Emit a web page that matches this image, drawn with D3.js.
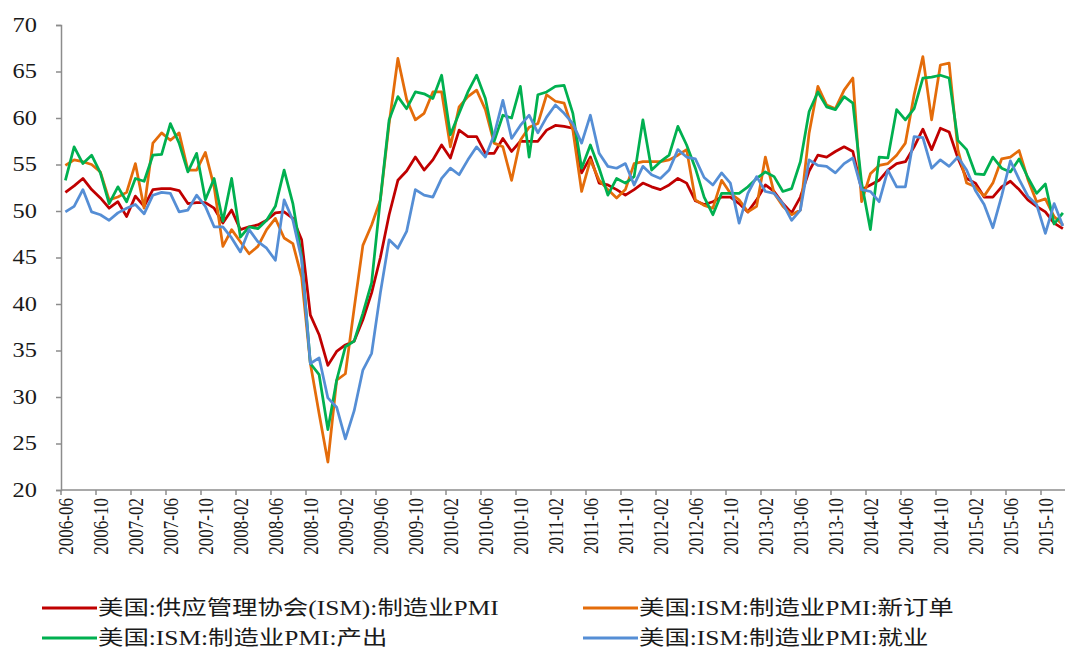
<!DOCTYPE html>
<html>
<head>
<meta charset="utf-8">
<script src="https://cdn.jsdelivr.net/npm/d3@7"></script>
<style>
  body { margin: 0; background: #fff; }
  #container { width: 1065px; height: 650px; }
</style>
</head>
<body>
<div id="container"></div>
<script>
//### DATA ###
//--- Months: 2006-06 to 2015-12
const startMonth = '2006-06';
const endMonth = '2015-12';

//--- 美国:供应管理协会(ISM):制造业PMI
const pmi = [
  52.0, 52.7, 53.5, 52.3, 51.4, 50.3, 51.0, 49.4, 51.6, 50.5,
  52.3, 52.4, 52.4, 52.2, 50.8, 50.9, 50.9, 50.3, 48.7, 50.1,
  48.0, 48.3, 48.5, 49.0, 49.8, 49.9, 49.2, 46.9, 38.8, 36.7,
  33.4, 34.9, 35.6, 36.0, 38.3, 41.2, 45.0, 49.6, 53.3, 54.3,
  55.8, 54.4, 55.5, 57.1, 55.7, 58.7, 58.0, 58.0, 56.2, 56.2,
  57.8, 56.4, 57.5, 57.5, 57.5, 58.7, 59.2, 59.1, 58.9, 54.1,
  55.8, 53.0, 52.8, 52.3, 51.7, 52.3, 53.0, 52.6, 52.3, 52.8,
  53.5, 53.0, 51.1, 50.7, 51.0, 51.5, 51.5, 50.8, 49.9, 51.2,
  52.8, 52.1, 50.8, 49.8, 51.5, 54.3, 56.0, 55.8, 56.4, 56.9,
  56.4, 52.3, 52.8, 53.3, 54.4, 55.1, 55.3, 56.9, 58.8, 56.6,
  58.9, 58.5, 55.7, 53.5, 53.0, 51.5, 51.5, 52.6, 53.2, 52.3,
  51.2, 50.5, 49.9, 48.7, 48.1
];

//--- 美国:ISM:制造业PMI:新订单
const newOrders = [
  54.9, 55.5, 55.3, 55.0, 54.2, 51.2, 51.5, 52.0, 55.1, 50.3,
  57.3, 58.4, 57.6, 58.4, 54.4, 54.4, 56.3, 52.6, 46.2, 48.0,
  46.7, 45.4, 46.2, 48.0, 49.2, 47.1, 46.5, 42.9, 33.6, 28.2,
  23.0, 31.8, 32.5, 39.5, 46.3, 48.5, 51.2, 59.4, 66.4, 62.0,
  59.8, 60.5, 62.8, 62.8, 56.9, 61.2, 62.3, 63.0, 60.9, 57.3,
  56.9, 53.3, 57.6, 59.0, 59.4, 62.5, 61.8, 61.6, 58.7, 52.1,
  55.5, 53.3, 52.3, 51.4, 52.3, 55.1, 55.3, 55.3, 55.3, 55.5,
  56.0, 56.6, 51.2, 50.6, 50.3, 53.3, 51.9, 51.2, 49.9, 50.5,
  55.8, 51.9, 50.5, 49.6, 50.1, 58.4, 63.4, 61.4, 61.0, 63.0,
  64.3, 51.0, 54.0, 54.9, 55.1, 56.0, 57.3, 62.5, 66.6, 59.8,
  65.7, 65.9, 56.6, 53.0, 52.6, 51.6, 53.0, 55.6, 55.8, 56.5,
  53.4, 51.0, 51.3, 49.4, 48.5
];

//--- 美国:ISM:制造业PMI:产出
const production = [
  53.3, 56.9, 55.1, 56.0, 54.1, 50.8, 52.6, 51.0, 53.5, 53.2,
  56.0, 56.1, 59.4, 57.3, 54.2, 56.2, 51.2, 53.5, 48.9, 53.5,
  47.2, 48.3, 48.1, 49.0, 50.5, 54.4, 50.8, 45.1, 33.6, 32.4,
  26.5, 31.8, 35.4, 36.0, 39.0, 42.3, 51.3, 59.8, 62.3, 61.0,
  62.8, 62.6, 62.1, 64.6, 58.2, 60.5, 62.8, 64.6, 62.1, 57.5,
  60.3, 60.0, 63.4, 55.8, 62.5, 62.8, 63.4, 63.5, 60.5, 54.6,
  57.1, 54.6, 51.7, 53.5, 53.0, 53.7, 59.8, 54.4, 55.3, 56.0,
  59.1, 57.1, 54.6, 51.5, 49.6, 51.9, 51.9, 51.9, 52.6, 53.5,
  54.2, 53.7, 52.1, 52.4, 55.3, 60.7, 62.8, 61.2, 60.9, 62.3,
  61.6, 53.0, 48.0, 55.8, 55.7, 60.9, 59.8, 61.0, 64.3, 64.4,
  64.6, 64.3, 57.6, 56.6, 54.0, 53.9, 55.8, 54.6, 54.2, 55.6,
  53.6, 51.9, 52.9, 48.6, 49.8
];

//--- 美国:ISM:制造业PMI:就业
const employment = [
  49.9, 50.5, 52.3, 49.9, 49.6, 49.0, 49.8, 50.3, 50.7, 49.7,
  51.7, 52.0, 51.9, 49.9, 50.1, 51.7, 50.5, 48.3, 48.3, 47.1,
  45.6, 48.0, 46.7, 46.0, 44.7, 51.2, 49.0, 44.8, 33.6, 34.2,
  29.9, 28.9, 25.5, 28.5, 32.9, 34.7, 41.2, 46.9, 46.0, 47.8,
  52.3, 51.7, 51.5, 53.5, 54.6, 53.9, 55.5, 56.9, 55.8, 58.2,
  61.9, 57.8, 59.2, 60.3, 58.4, 60.1, 61.4, 60.5, 59.4, 57.3,
  60.3, 56.2, 54.8, 54.6, 55.1, 52.8, 54.8, 53.9, 53.5, 54.4,
  56.6, 55.8, 55.6, 53.6, 52.8, 54.1, 53.0, 48.7, 51.9, 53.7,
  52.1, 51.9, 50.8, 49.0, 50.1, 55.5, 54.9, 54.8, 54.1, 55.1,
  55.7, 52.3, 52.1, 51.0, 54.4, 52.6, 52.6, 58.0, 57.9, 54.6,
  55.5, 54.8, 55.8, 54.4, 52.2, 50.7, 48.2, 51.6, 55.4, 53.4,
  51.6, 50.7, 47.6, 50.8, 48.4
];

const seriesNames = [
  '美国:供应管理协会(ISM):制造业PMI',
  '美国:ISM:制造业PMI:新订单',
  '美国:ISM:制造业PMI:产出',
  '美国:ISM:制造业PMI:就业'
];

const yTicks = [ 20, 25, 30, 35, 40, 45, 50, 55, 60, 65, 70 ];


//### CREATE THE VISUALIZATION ###
function createVisualization () {

  //_____ VARIABLES _____
  const totalWidth = 1065;
  const totalHeight = 650;
  const plot = { left: 61, top: 25, bottom: 490 };
  const step = 8.75;
  const stretch = 1.22; //--- the source text looks horizontally stretched
  const legendStretch = 1.27;
  const axisColor = '#8c8c8c';
  const textColor = '#1a1a1a';
  const colors = [ '#c00000', '#e46c0a', '#00b050', '#558ed5' ];
  const serif = '"Liberation Serif", "Times New Roman", "Noto Sans CJK SC", serif';

  //_____ STRUCTURE THE DATA _____
  const parseMonth = d3.timeParse( '%Y-%m' );
  const formatMonth = d3.timeFormat( '%Y-%m' );
  const months = d3.timeMonth
    .range( parseMonth( startMonth ), d3.timeMonth.offset( parseMonth( endMonth ), 1 ) )
    .map( formatMonth );
  const tickMonths = months.filter( ( d, i ) => i % 4 === 0 );

  const series = [ pmi, newOrders, production, employment ].map( ( values, k ) => ( {
    name: seriesNames[ k ],
    color: colors[ k ],
    values: values.map( ( v, i ) => ( { month: months[ i ], value: v } ) )
  } ) );


  //_____ SET THE SCALES _____
  const xScale = d3.scaleBand()
    .domain( months )
    .range( [ plot.left, plot.left + months.length * step ] );

  const yScale = d3.scaleLinear()
    .domain( [ 20, 70 ] )
    .range( [ plot.bottom, plot.top ] );


  //_____ SVG _____
  const svg = d3.select( '#container' )
    .append( 'svg' )
    .attr( 'width', totalWidth )
    .attr( 'height', totalHeight );


  //_____ ADD AXES _____
  //>>> Y-axis:
  const yAxis = svg.append( 'g' )
    .attr( 'id', 'y-axis' )
    .attr( 'transform', `translate(${plot.left}, 0)` )
    .call( d3.axisLeft( yScale ).tickValues( yTicks ).tickSize( 5 ) );

  yAxis.select( '.domain' ).attr( 'stroke', axisColor ).attr( 'stroke-width', 1.5 );
  yAxis.selectAll( '.tick line' ).attr( 'stroke', axisColor ).attr( 'stroke-width', 1.5 );
  yAxis.selectAll( '.tick text' )
    .attr( 'x', -24 / stretch )
    .attr( 'transform', `scale(${stretch}, 1)` )
    .style( 'font-family', serif )
    .style( 'font-size', '20px' )
    .attr( 'fill', textColor );

  //>>> X-axis (ticks sit on category boundaries, every 4 months):
  const xAxis = svg.append( 'g' )
    .attr( 'id', 'x-axis' )
    .attr( 'transform', `translate(0, ${plot.bottom})` );

  xAxis.append( 'line' )
    .attr( 'x1', plot.left )
    .attr( 'x2', totalWidth )
    .attr( 'stroke', axisColor )
    .attr( 'stroke-width', 1.5 );

  xAxis.selectAll( 'line.tick' )
    .data( tickMonths )
    .enter()
    .append( 'line' )
    .attr( 'class', 'tick' )
    .attr( 'x1', d => xScale( d ) )
    .attr( 'x2', d => xScale( d ) )
    .attr( 'y1', 0 )
    .attr( 'y2', 5 )
    .attr( 'stroke', axisColor )
    .attr( 'stroke-width', 1.5 );

  xAxis.selectAll( 'text' )
    .data( tickMonths )
    .enter()
    .append( 'text' )
    .attr( 'transform', d => `translate(${xScale( d ) + xScale.bandwidth() / 2}, 8) rotate(-90) scale(1, ${stretch})` )
    .attr( 'dy', '0.35em' )
    .attr( 'text-anchor', 'end' )
    .style( 'font-family', serif )
    .style( 'font-size', '17px' )
    .attr( 'fill', textColor )
    .text( d => d );


  //_____ ADD THE LINES _____
  const line = d3.line()
    .x( d => xScale( d.month ) + xScale.bandwidth() / 2 )
    .y( d => yScale( d.value ) );

  svg.append( 'g' )
    .selectAll( 'path' )
    .data( series )
    .enter()
    .append( 'path' )
    .attr( 'd', d => line( d.values ) )
    .attr( 'fill', 'none' )
    .attr( 'stroke', d => d.color )
    .attr( 'stroke-width', 2.75 )
    .attr( 'stroke-linejoin', 'round' );


  //_____ LEGEND _____
  const legendPos = [ [ 42, 608 ], [ 583, 608 ], [ 42, 638 ], [ 583, 638 ] ];

  const legendItems = svg.append( 'g' )
    .attr( 'id', 'legend' )
    .selectAll( 'g' )
    .data( series )
    .enter()
    .append( 'g' )
    .attr( 'transform', ( d, i ) => `translate(${legendPos[ i ][ 0 ]}, ${legendPos[ i ][ 1 ]})` );

  legendItems.append( 'line' )
    .attr( 'x1', 0 )
    .attr( 'x2', 55 )
    .attr( 'stroke', d => d.color )
    .attr( 'stroke-width', 3 );

  legendItems.append( 'text' )
    .attr( 'x', 56 / legendStretch )
    .attr( 'dy', '0.35em' )
    .attr( 'transform', `scale(${legendStretch}, 1)` )
    .style( 'font-family', serif )
    .style( 'font-size', '20px' )
    .attr( 'fill', textColor )
    .text( d => d.name );
}

createVisualization();
</script>
</body>
</html>
